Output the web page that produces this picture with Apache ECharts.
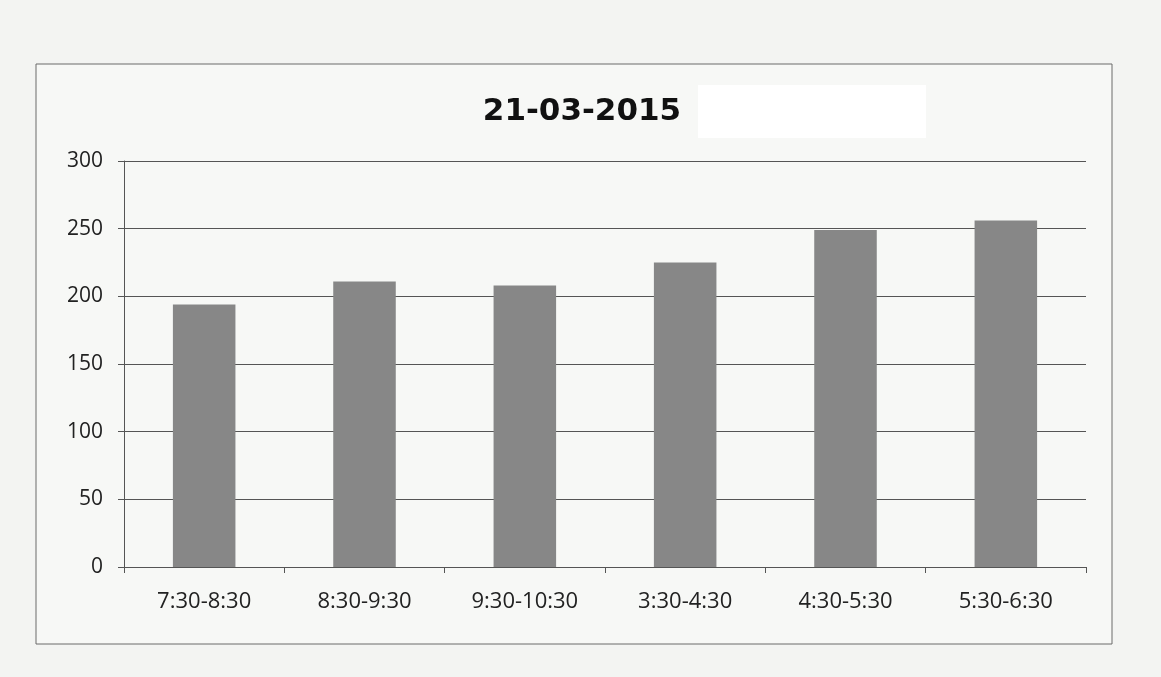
<!DOCTYPE html>
<html>
<head>
<meta charset="utf-8">
<script src="https://cdn.jsdelivr.net/npm/echarts@6/dist/echarts.min.js"></script>
<style>
html,body{margin:0;padding:0;background:#f3f4f2;}
#chart{width:1161px;height:677px;}
</style>
</head>
<body>
<div id="chart"></div>
<script>
const categories = ['7:30-8:30','8:30-9:30','9:30-10:30','3:30-4:30','4:30-5:30','5:30-6:30'];
const values = [194, 211, 208, 225, 249, 256];
const yTicks = [0, 50, 100, 150, 200, 250, 300];
const titleText = '21-03-2015';

const chart = echarts.init(document.getElementById('chart'));
chart.setOption({
  backgroundColor: '#f3f4f2',
  animation: false,
  title: {
    text: titleText,
    left: 577, top: 91, textAlign: 'center',
    textStyle: {fontFamily: 'DejaVu Sans', fontWeight: 'bold', fontSize: 31, color: '#111'}
  },
  graphic: [
    {type: 'rect', shape: {x: 36, y: 64, width: 1076, height: 580},
     style: {fill: '#f7f8f6', stroke: '#6a6a6a', lineWidth: 1}, z: -10},
    {type: 'rect', shape: {x: 698, y: 85, width: 228, height: 53},
     style: {fill: '#ffffff'}, z: 10}
  ],
  grid: {left: 124, right: 75, top: 161, bottom: 110},
  xAxis: {
    type: 'category',
    data: categories,
    axisLine: {lineStyle: {color: '#555', width: 1}},
    axisTick: {show: true, alignWithLabel: false, length: 6, lineStyle: {color: '#555'}},
    axisLabel: {color: '#222', fontSize: 22, fontFamily: 'Open Sans', margin: 24}
  },
  yAxis: {
    type: 'value',
    min: yTicks[0], max: yTicks[yTicks.length - 1], interval: 50,
    axisLine: {show: true, lineStyle: {color: '#555', width: 1}},
    axisTick: {show: true, length: 6, lineStyle: {color: '#555'}},
    splitLine: {lineStyle: {color: '#555', width: 1}},
    axisLabel: {color: '#222', fontSize: 21, fontFamily: 'Open Sans', margin: 21}
  },
  series: [{
    type: 'bar',
    data: values,
    barWidth: '39%',
    itemStyle: {color: '#878787'}
  }]
});
</script>
</body>
</html>
